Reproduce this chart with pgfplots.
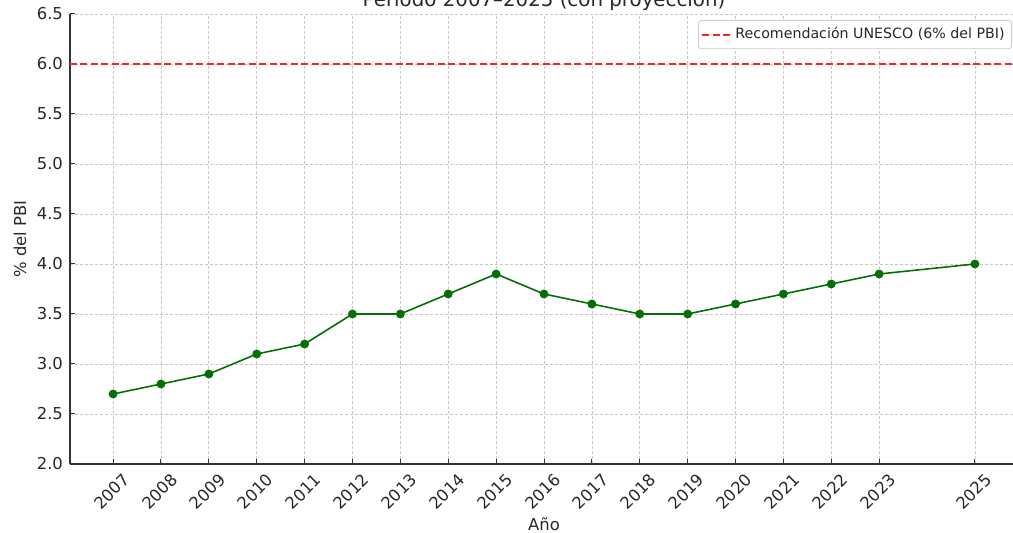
\documentclass[border=0pt]{standalone}
\usepackage{pgfplots}
\pgfplotsset{compat=1.18}
\usepackage{fontspec}
\setmainfont{DejaVu Sans}
\definecolor{linegreen}{RGB}{5,110,5}
\definecolor{linered}{RGB}{250,35,35}
\definecolor{gridgray}{RGB}{200,200,200}
\definecolor{txt}{RGB}{40,40,40}
\begin{document}
\begin{tikzpicture}
\begin{axis}[
    scale only axis,
    width=474pt, height=225pt,
    xmin=2006.1, xmax=2025.9,
    ymin=2, ymax=6.5,
    axis x line*=bottom, axis y line*=left,
    axis line style={black!80, line width=0.6pt},
    xtick={2007,...,2023,2025},
    ytick={2,2.5,...,6.5},
    tick align=inside,
    major tick length=2.5pt,
    tick style={black!80, line width=0.5pt},
    grid=major,
    grid style={gridgray, dash pattern=on 1.5pt off 1pt, line width=0.35pt},
    /pgf/number format/assume math mode=true,
    x tick label style={/pgf/number format/1000 sep={}},
    y tick label style={/pgf/number format/.cd, fixed, fixed zerofill, precision=1},
    tick label style={font=\fontsize{8.2}{10}\selectfont, text=txt},
    xticklabel style={inner sep=0pt, xshift=4.5pt, yshift=-4pt, rotate=45, anchor=north east},
    title={Período 2007–2025 (con proyección)},
    title style={at={(axis description cs:0.5,1)}, anchor=base, yshift=-2.5pt,
        font=\fontsize{9.9}{12}\selectfont, text=txt},
    xlabel={Año},
    xlabel style={at={(axis description cs:0.5,-0.1333)}, anchor=center,
        font=\fontsize{8.2}{10}\selectfont, text=txt},
    ylabel={\% del PBI},
    ylabel style={at={(axis description cs:-0.0527,0.5)}, anchor=center,
        font=\fontsize{8.2}{10}\selectfont, text=txt},
    legend style={at={(axis description cs:1,1)}, anchor=north east,
        xshift=-3pt, yshift=-3pt, draw=black!20, rounded corners=1.5pt,
        font=\fontsize{7.1}{8.5}\selectfont, text=txt, inner sep=1.5pt},
    legend cell align=left,
    legend image code/.code={\draw[#1] (0pt,0pt) -- (14pt,0pt);},
]
\addplot[linegreen, line width=0.8pt, mark=*, mark size=1.8pt,
    mark options={fill=linegreen, draw=linegreen}, forget plot]
    coordinates {
    (2007,2.7)(2008,2.8)(2009,2.9)(2010,3.1)(2011,3.2)(2012,3.5)
    (2013,3.5)(2014,3.7)(2015,3.9)(2016,3.7)(2017,3.6)(2018,3.5)
    (2019,3.5)(2020,3.6)(2021,3.7)(2022,3.8)(2023,3.9)(2025,4.0)
    };
\addplot[linered, line width=1pt, dash pattern=on 3.5pt off 1.75pt]
    coordinates {(2006.1,6)(2025.9,6)};
\addlegendentry{Recomendación UNESCO (6\% del PBI)}
\end{axis}
\pgfresetboundingbox
\useasboundingbox (-35pt,-34.5pt) rectangle (471.5pt,232pt);
\end{tikzpicture}
\end{document}
